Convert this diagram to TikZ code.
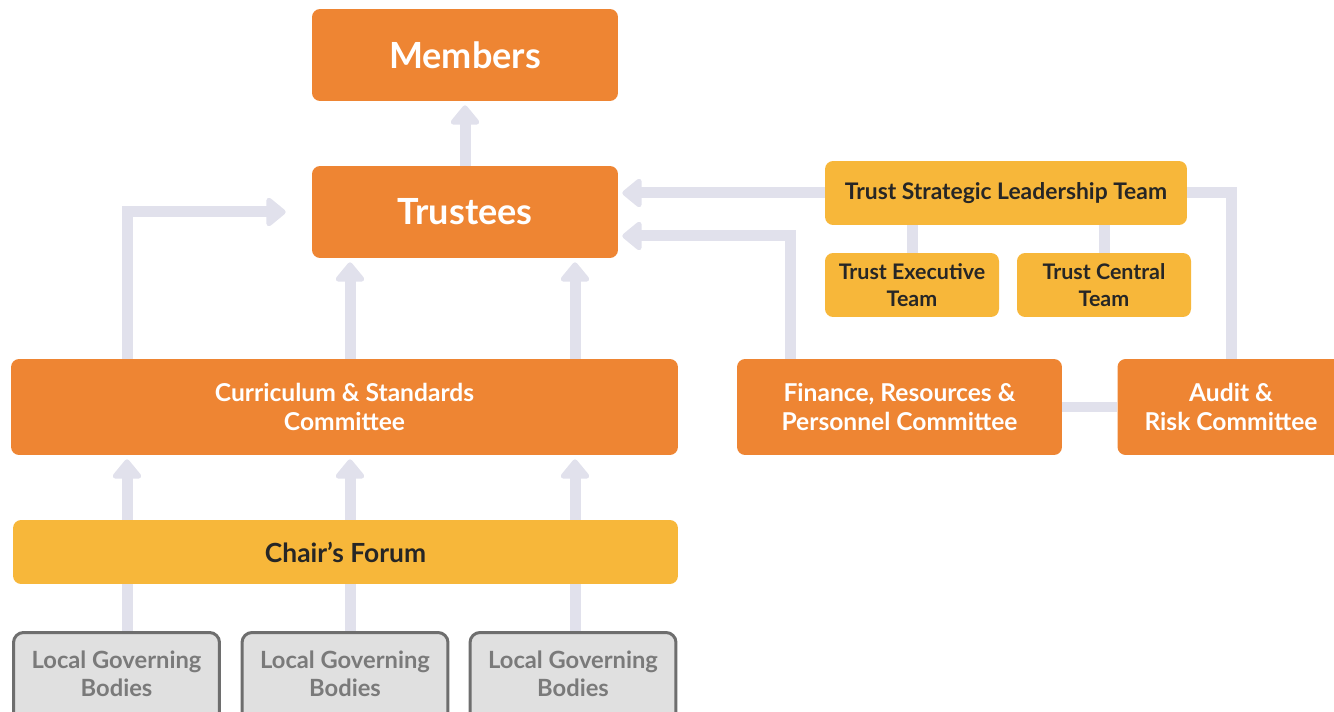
\documentclass[tikz,border=0pt]{standalone}
\usepackage{fontspec}
\setmainfont{Lato}
\usetikzlibrary{arrows.meta,backgrounds}
\definecolor{boxorange}{HTML}{EE8533}
\definecolor{boxyellow}{HTML}{F7B73A}
\definecolor{linkgray}{HTML}{E1E1EC}
\definecolor{lgbfill}{HTML}{E0E0E0}
\definecolor{lgbdraw}{HTML}{6E6E6E}
\definecolor{lgbtext}{HTML}{7A7A7A}
\begin{document}
\begin{tikzpicture}[x=0.02cm, y=-0.02cm,
  orangebox/.style = {fill=boxorange, text=white, rounded corners=0.16cm, align=center, font=\bfseries\fontsize{14}{17}\selectfont},
  topbox/.style = {orangebox, minimum width=6.12cm, minimum height=1.84cm, font=\bfseries\fontsize{20.5}{25}\selectfont},
  yellowbox/.style = {fill=boxyellow, text=black!85, rounded corners=0.16cm, align=center, minimum height=1.28cm, font=\bfseries\fontsize{12.2}{15}\selectfont},
  lgbbox/.style = {fill=lgbfill, draw=lgbdraw, line width=0.06cm, text=lgbtext, rounded corners=0.2cm, align=center, minimum width=4.12cm, minimum height=1.9cm, text depth=0.27cm, font=\bfseries\fontsize{13.5}{16}\selectfont},
  link/.style = {draw=linkgray, line width=0.22cm},
  uplink/.style = {link, -{Triangle[width=0.66cm, length=0.42cm, round]}, shorten >=0.08cm}]
\useasboundingbox (0,0) rectangle (1334,712);
\clip (0,0) rectangle (1334,712);
%Board
\node[topbox] (members) at (465,55) {Members};
\node[topbox] (trustees) at (465,212) {Trustees};
%Committees
\node[orangebox, minimum width=13.34cm, minimum height=1.92cm] (curric) at (344.5,407) {Curriculum \& Standards\\Committee};
\node[orangebox, minimum width=6.5cm, minimum height=1.92cm] (finance) at (899.5,407) {Finance, Resources \&\\Personnel Committee};
\node[orangebox, minimum width=4.54cm, minimum height=1.92cm] (audit) at (1231,407) {Audit \&\\Risk Committee};
%Leadership
\node[yellowbox, minimum width=7.24cm, font=\bfseries\fontsize{13}{15.5}\selectfont] (tslt) at (1006,193) {Trust Strategic Leadership Team};
\node[yellowbox, minimum width=3.48cm] (exec) at (912,285) {Trust Executive\\Team};
\node[yellowbox, minimum width=3.48cm] (central) at (1104,285) {Trust Central\\Team};
\node[yellowbox, minimum width=13.3cm, font=\bfseries\fontsize{15}{18}\selectfont] (chairs) at (345.5,552) {Chair’s Forum};
%Local bodies
\node[lgbbox] (lgb1) at (116.5,680) {Local Governing\\Bodies};
\node[lgbbox] (lgb2) at (345,680) {Local Governing\\Bodies};
\node[lgbbox] (lgb3) at (573,680) {Local Governing\\Bodies};
\coordinate (col1) at (127,0);
\coordinate (col2) at (350,0);
\coordinate (col3) at (575,0);
\coordinate (fincol) at (790,236);
\begin{scope}[on background layer]
\draw[uplink] (trustees) -- (members);
\draw[uplink] (col1 |- curric.north) |- ([xshift=-0.44cm]trustees.west);
\draw[uplink] (col2 |- curric.north) -- (col2 |- trustees.south);
\draw[uplink] (col3 |- curric.north) -- (col3 |- trustees.south);
\draw[uplink] (col1 |- chairs.north) -- (col1 |- curric.south);
\draw[uplink] (col2 |- chairs.north) -- (col2 |- curric.south);
\draw[uplink] (col3 |- chairs.north) -- (col3 |- curric.south);
\draw[link] (col1 |- lgb1.north) -- (col1 |- chairs.south);
\draw[link] (col2 |- lgb2.north) -- (col2 |- chairs.south);
\draw[link] (col3 |- lgb3.north) -- (col3 |- chairs.south);
\draw[uplink] (tslt.west) -- (tslt.west -| trustees.east);
\draw[uplink] (fincol |- finance.north) |- (trustees.east |- fincol);
\draw[link] (tslt.east) -| (audit.north);
\draw[link] (tslt.south -| exec) -- (exec.north);
\draw[link] (tslt.south -| central) -- (central.north);
\draw[link] (finance.east) -- (audit.west);
\end{scope}
\end{tikzpicture}
\end{document}
